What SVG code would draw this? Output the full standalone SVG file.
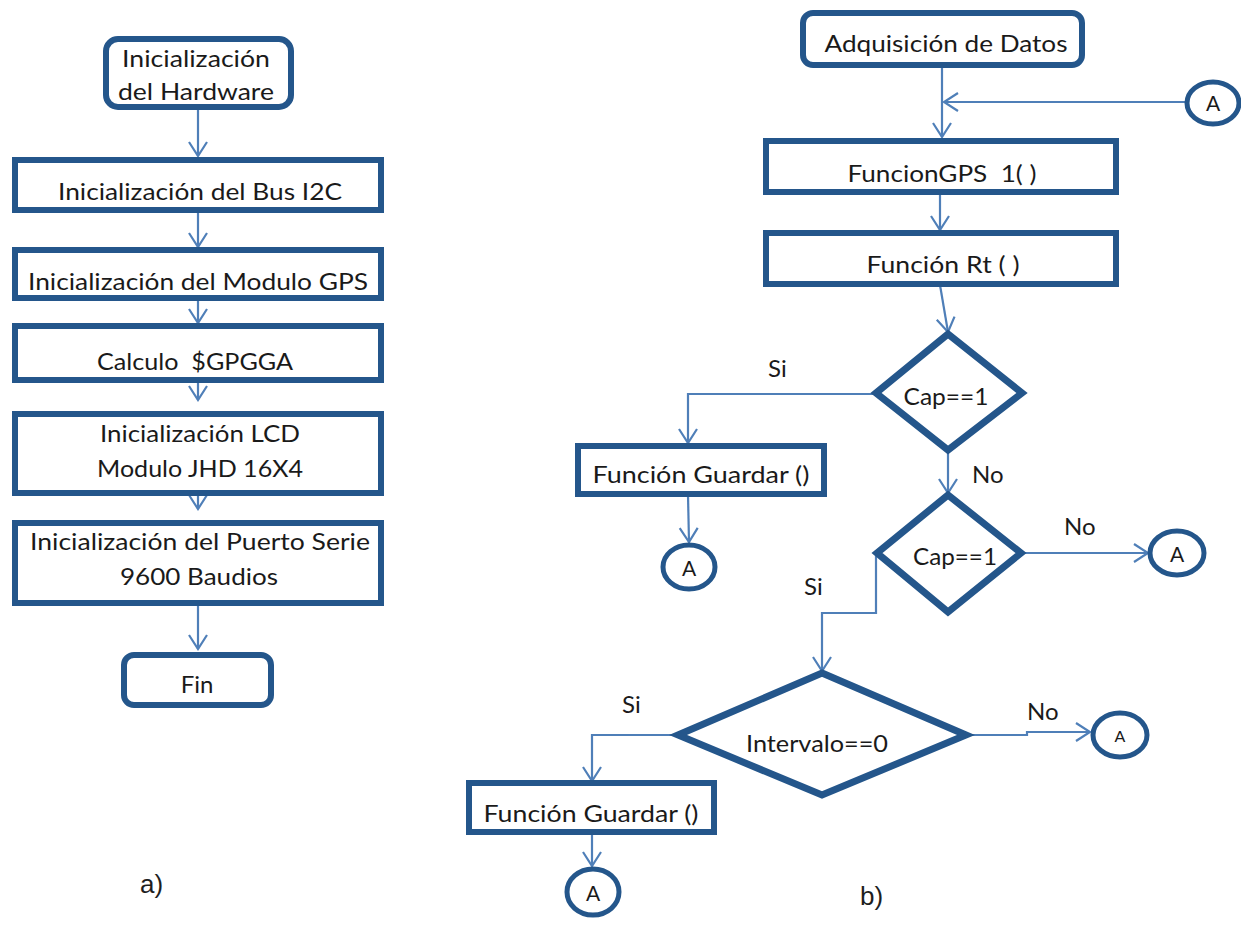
<svg xmlns="http://www.w3.org/2000/svg" width="1241" height="931" viewBox="0 0 1241 931">
<defs>
<style>
.box{fill:#fff;stroke:#24568b;stroke-width:6}
.dia{fill:#fff;stroke:#24568b;stroke-width:7;stroke-linejoin:miter}
.circ{fill:#fff;stroke:#24568b;stroke-width:5}
.con{fill:none;stroke:#4f7fb8;stroke-width:2.2}
.t{font-family:Lato,"Open Sans",sans-serif;font-size:24px;fill:#1a1a1a}
.tm{text-anchor:middle}
.ta{font-size:21px}
.lab{font-family:"Liberation Sans",Arial,sans-serif;font-size:26px;fill:#1e1e1e}
</style>
<marker id="arr" markerUnits="userSpaceOnUse" viewBox="-16 -11 18 22" refX="0" refY="0" markerWidth="18" markerHeight="22" orient="auto">
<path d="M-14,-9 L0,0 L-14,9" fill="none" stroke="#4f7fb8" stroke-width="2.2"/>
</marker>
</defs>
<rect width="1241" height="931" fill="#fff"/>

<g id="connectors">
<line class="con" x1="198" y1="108" x2="198" y2="156" marker-end="url(#arr)"/>
<line class="con" x1="198" y1="210" x2="198" y2="247" marker-end="url(#arr)"/>
<line class="con" x1="198" y1="298" x2="198" y2="323" marker-end="url(#arr)"/>
<line class="con" x1="198" y1="380" x2="198" y2="400" marker-end="url(#arr)"/>
<line class="con" x1="198" y1="493" x2="198" y2="509" marker-end="url(#arr)"/>
<line class="con" x1="198" y1="603" x2="198" y2="649" marker-end="url(#arr)"/>

<line class="con" x1="942" y1="65" x2="942" y2="137" marker-end="url(#arr)"/>
<line class="con" x1="1186" y1="102" x2="944" y2="102" marker-end="url(#arr)"/>
<line class="con" x1="940" y1="192" x2="940" y2="230" marker-end="url(#arr)"/>
<line class="con" x1="940" y1="285" x2="948" y2="332" marker-end="url(#arr)"/>
<path class="con" d="M875,394 H688 V443" marker-end="url(#arr)"/>
<line class="con" x1="688" y1="495" x2="689" y2="542" marker-end="url(#arr)"/>
<line class="con" x1="948" y1="450" x2="948" y2="493" marker-end="url(#arr)"/>
<line class="con" x1="1023" y1="553" x2="1148" y2="553" marker-end="url(#arr)"/>
<path class="con" d="M876,552 V613 H822 V671" marker-end="url(#arr)"/>
<path class="con" d="M967,735 H1027 V732 H1090" marker-end="url(#arr)"/>
<path class="con" d="M677,735 H592 V781" marker-end="url(#arr)"/>
<line class="con" x1="592" y1="832" x2="592" y2="866" marker-end="url(#arr)"/>
</g>

<g id="n-hardware">
<rect class="box" x="106" y="39" width="185" height="68" rx="12"/>
<text class="t tm" x="196" y="67" textLength="148" lengthAdjust="spacingAndGlyphs">Inicialización</text>
<text class="t tm" x="196" y="100" textLength="156" lengthAdjust="spacingAndGlyphs">del Hardware</text>
</g>
<g id="n-bus">
<rect class="box" x="15" y="160" width="366" height="50"/>
<text class="t tm" x="200" y="200" textLength="284" lengthAdjust="spacingAndGlyphs">Inicialización del Bus I2C</text>
</g>
<g id="n-gps">
<rect class="box" x="15" y="250" width="366" height="48"/>
<text class="t tm" x="198" y="290" textLength="340" lengthAdjust="spacingAndGlyphs">Inicialización del Modulo GPS</text>
</g>
<g id="n-calc">
<rect class="box" x="15" y="326" width="366" height="54"/>
<text class="t tm" x="195" y="370" textLength="196" lengthAdjust="spacingAndGlyphs">Calculo&#160; $GPGGA</text>
</g>
<g id="n-lcd">
<rect class="box" x="15" y="414" width="366" height="79"/>
<text class="t tm" x="200" y="442" textLength="200" lengthAdjust="spacingAndGlyphs">Inicialización LCD</text>
<text class="t tm" x="200" y="477" textLength="206" lengthAdjust="spacingAndGlyphs">Modulo JHD 16X4</text>
</g>
<g id="n-serie">
<rect class="box" x="15" y="523" width="366" height="80"/>
<text class="t tm" x="200" y="550" textLength="340" lengthAdjust="spacingAndGlyphs">Inicialización del Puerto Serie</text>
<text class="t tm" x="199" y="585" textLength="158" lengthAdjust="spacingAndGlyphs">9600 Baudios</text>
</g>
<g id="n-fin">
<rect class="box" x="124" y="655" width="147" height="50" rx="10"/>
<text class="t tm" x="197" y="693">Fin</text>
</g>
<text class="lab" x="140" y="893">a)</text>

<g id="n-adq">
<rect class="box" x="803" y="13" width="279" height="52" rx="10"/>
<text class="t tm" x="946" y="52" textLength="243" lengthAdjust="spacingAndGlyphs">Adquisición de Datos</text>
</g>
<g id="n-a-top">
<ellipse class="circ" cx="1213" cy="103" rx="26" ry="21"/>
<text class="t tm ta" x="1213" y="111">A</text>
</g>
<g id="n-gps1">
<rect class="box" x="766" y="141" width="350" height="51"/>
<text class="t tm" x="942" y="182" textLength="189" lengthAdjust="spacingAndGlyphs">FuncionGPS&#160; 1( )</text>
</g>
<g id="n-rt">
<rect class="box" x="766" y="233" width="350" height="51"/>
<text class="t tm" x="943" y="273" textLength="153" lengthAdjust="spacingAndGlyphs">Función Rt ( )</text>
</g>
<g id="n-cap1">
<polygon class="dia" points="948,334 1022,393 948,450 876,393"/>
<text class="t tm" x="946" y="405" textLength="85" lengthAdjust="spacingAndGlyphs">Cap==1</text>
</g>
<text class="t" x="768" y="377">Si</text>
<g id="n-guardar1">
<rect class="box" x="578" y="446" width="246" height="48"/>
<text class="t tm" x="701" y="483" textLength="217" lengthAdjust="spacingAndGlyphs">Función Guardar ()</text>
</g>
<g id="n-a1">
<ellipse class="circ" cx="689" cy="567" rx="26" ry="22"/>
<text class="t tm ta" x="689" y="576">A</text>
</g>
<text class="t" x="972" y="483">No</text>
<g id="n-cap2">
<polygon class="dia" points="948,495 1021,553 948,612 877,553"/>
<text class="t tm" x="955" y="565" textLength="84" lengthAdjust="spacingAndGlyphs">Cap==1</text>
</g>
<text class="t" x="1064" y="535">No</text>
<text class="t" x="804" y="595">Si</text>
<g id="n-a2">
<ellipse class="circ" cx="1177" cy="553" rx="27" ry="22"/>
<text class="t tm ta" x="1177" y="562">A</text>
</g>
<g id="n-intervalo">
<polygon class="dia" points="822,673 966,735 822,795 678,735"/>
<text class="t tm" x="817" y="752" textLength="142" lengthAdjust="spacingAndGlyphs">Intervalo==0</text>
</g>
<text class="t" x="1027" y="720">No</text>
<text class="t" x="622" y="713">Si</text>
<g id="n-a3">
<ellipse class="circ" cx="1120" cy="735" rx="27" ry="22"/>
<text class="t tm" x="1120" y="742" style="font-size:16px">A</text>
</g>
<g id="n-guardar2">
<rect class="box" x="469" y="783" width="245" height="49"/>
<text class="t tm" x="591" y="822" textLength="215" lengthAdjust="spacingAndGlyphs">Función Guardar ()</text>
</g>
<g id="n-a4">
<ellipse class="circ" cx="593" cy="892" rx="26" ry="23"/>
<text class="t tm ta" x="593" y="901">A</text>
</g>
<text class="lab" x="860" y="905">b)</text>
</svg>
